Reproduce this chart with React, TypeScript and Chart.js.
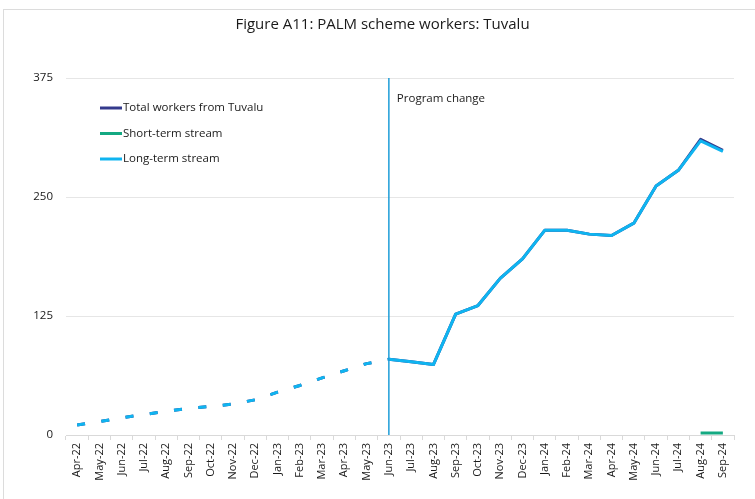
import React, { useEffect, useRef } from "react";
import { Chart, registerables } from "chart.js";

Chart.register(...registerables);

const categories = [
  "Apr-22", "May-22", "Jun-22", "Jul-22", "Aug-22", "Sep-22", "Oct-22", "Nov-22", "Dec-22",
  "Jan-23", "Feb-23", "Mar-23", "Apr-23", "May-23", "Jun-23", "Jul-23", "Aug-23", "Sep-23",
  "Oct-23", "Nov-23", "Dec-23", "Jan-24", "Feb-24", "Mar-24", "Apr-24", "May-24", "Jun-24",
  "Jul-24", "Aug-24", "Sep-24",
];

const longTerm = [
  10.5, 14, 18, 21.5, 25, 28, 30, 32.5, 37, 45, 52, 60, 67.5, 75, 79.5, 77, 74, 127, 136,
  164.5, 185, 215, 215, 211, 209.5, 222.5, 261.5, 278, 309, 298,
];

const shortTerm = [
  null, null, null, null, null, null, null, null, null, null, null, null, null, null, null,
  null, null, null, null, null, null, null, null, null, null, null, null, null, 2, 2,
];

const totalWorkers = [
  10.5, 14, 18, 21.5, 25, 28, 30, 32.5, 37, 45, 52, 60, 67.5, 75, 79.5, 77, 74, 127, 136,
  164.5, 185, 215, 215, 211, 209.5, 222.5, 261.5, 278, 310.5, 299,
];

const yTicks = [0, 125, 250, 375];
const programChangeLabel = "Jun-23";
const titleText = "Figure A11: PALM scheme workers: Tuvalu";

const FONT = "'Open Sans', 'Liberation Sans', sans-serif";
const DASH_UNTIL = categories.indexOf(programChangeLabel);

const overlayPlugin = {
  id: "overlay",
  beforeDraw(chart: any) {
    const { ctx } = chart;
    ctx.save();
    ctx.strokeStyle = "#dcdcdc";
    ctx.lineWidth = 1;
    ctx.strokeRect(3.5, 9.5, chart.width + 20, chart.height + 20);
    ctx.fillStyle = "#1a1a1a";
    ctx.font = `15px ${FONT}`;
    ctx.textAlign = "center";
    ctx.textBaseline = "middle";
    ctx.fillText(titleText, chart.width / 2 + 5, 25);
    ctx.restore();
  },
  afterDatasetsDraw(chart: any) {
    const { ctx, chartArea } = chart;
    const x = chart.scales.x.getPixelForValue(DASH_UNTIL);
    ctx.save();
    ctx.strokeStyle = "#1e9dd8";
    ctx.lineWidth = 1.5;
    ctx.beginPath();
    ctx.moveTo(x, chartArea.top);
    ctx.lineTo(x, chartArea.bottom);
    ctx.stroke();
    ctx.fillStyle = "#1a1a1a";
    ctx.font = `11.5px ${FONT}`;
    ctx.textAlign = "left";
    ctx.textBaseline = "middle";
    ctx.fillText("Program change", x + 8, chartArea.top + 21);

    // legend
    const lx = chartArea.left + 34;
    let ly = chartArea.top + 30;
    chart.data.datasets.forEach((ds: any) => {
      ctx.strokeStyle = ds.borderColor;
      ctx.lineWidth = 3;
      ctx.beginPath();
      ctx.moveTo(lx, ly);
      ctx.lineTo(lx + 22, ly);
      ctx.stroke();
      ctx.fillStyle = "#1a1a1a";
      ctx.font = `11.5px ${FONT}`;
      ctx.fillText(ds.label, lx + 23, ly);
      ly += 25.5;
    });
    ctx.restore();
  },
};

export default function App() {
  const ref = useRef<HTMLCanvasElement>(null);

  useEffect(() => {
    document.body.style.margin = "0";
    const dashSeg = {
      borderDash: (c: any) => (c.p0DataIndex < DASH_UNTIL ? [8, 16.5] : undefined),
    };
    const chart = new Chart(ref.current!, {
      type: "line",
      data: {
        labels: categories,
        datasets: [
          {
            label: "Total workers from Tuvalu",
            data: totalWorkers,
            borderColor: "#343a8c",
            borderWidth: 3,
            pointRadius: 0,
            order: 3,
            segment: dashSeg,
          },
          {
            label: "Short-term stream",
            data: shortTerm,
            borderColor: "#14a982",
            borderWidth: 3,
            pointRadius: 0,
            order: 2,
          },
          {
            label: "Long-term stream",
            data: longTerm,
            borderColor: "#0fb4f0",
            borderWidth: 3,
            pointRadius: 0,
            order: 1,
            segment: dashSeg,
          },
        ] as any,
      },
      options: {
        animation: false,
        responsive: false,
        events: [],
        layout: { padding: { top: 78, left: 0, right: 21, bottom: 0 } },
        elements: { line: { tension: 0, borderJoinStyle: "round", borderCapStyle: "butt" } },
        plugins: { legend: { display: false }, tooltip: { enabled: false }, title: { display: false } },
        scales: {
          x: {
            offset: true,
            afterFit: (s: any) => {
              s.height = 64;
            },
            grid: {
              offset: true,
              drawOnChartArea: false,
              drawTicks: true,
              tickLength: 5,
              color: "#d9d9d9",
            },
            border: { display: true, color: "#d9d9d9", width: 1 },
            ticks: {
              autoSkip: false,
              minRotation: 90,
              maxRotation: 90,
              padding: 3,
              color: "#1a1a1a",
              font: { family: FONT, size: 11 },
            },
          },
          y: {
            min: 0,
            max: 375,
            afterFit: (s: any) => {
              s.width = 66;
            },
            afterBuildTicks: (s: any) => {
              s.ticks = yTicks.map((v) => ({ value: v }));
            },
            grid: { drawTicks: false, color: "#e6e6e6", lineWidth: 1 },
            border: { display: false },
            ticks: {
              padding: 13,
              color: "#1a1a1a",
              font: { family: FONT, size: 11.5 },
            },
          },
        },
      },
      plugins: [overlayPlugin],
    });
    return () => chart.destroy();
  }, []);

  return (
    <div style={{ position: "absolute", left: 0, top: 0, width: 755, height: 499, background: "#fff" }}>
      <canvas ref={ref} width={755} height={499} />
    </div>
  );
}
